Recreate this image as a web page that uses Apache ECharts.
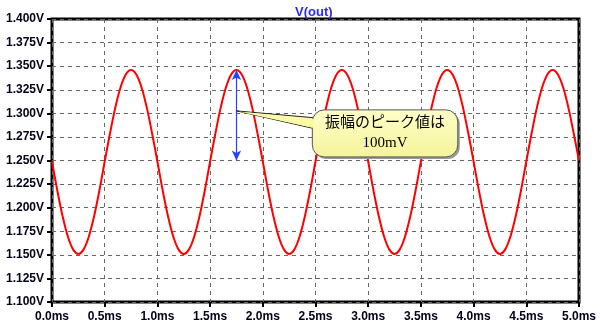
<!DOCTYPE html>
<html>
<head>
<meta charset="utf-8">
<script src="https://cdn.jsdelivr.net/npm/echarts@6/dist/echarts.min.js"></script>
<style>html,body{margin:0;padding:0;background:#fff}#c{width:600px;height:330px}</style>
</head>
<body>
<div id="c"></div>
<script>
var title = 'V(out)';
var times = [
 0.00,0.05,0.10,0.15,0.20,0.25,0.30,0.35,0.40,0.45,0.50,0.55,0.60,0.65,0.70,0.75,0.80,0.85,0.90,0.95,
 1.00,1.05,1.10,1.15,1.20,1.25,1.30,1.35,1.40,1.45,1.50,1.55,1.60,1.65,1.70,1.75,1.80,1.85,1.90,1.95,
 2.00,2.05,2.10,2.15,2.20,2.25,2.30,2.35,2.40,2.45,2.50,2.55,2.60,2.65,2.70,2.75,2.80,2.85,2.90,2.95,
 3.00,3.05,3.10,3.15,3.20,3.25,3.30,3.35,3.40,3.45,3.50,3.55,3.60,3.65,3.70,3.75,3.80,3.85,3.90,3.95,
 4.00,4.05,4.10,4.15,4.20,4.25,4.30,4.35,4.40,4.45,4.50,4.55,4.60,4.65,4.70,4.75,4.80,4.85,4.90,4.95,
 5.00];
var vout = [
 1.2490,1.2184,1.1912,1.1696,1.1558,1.1510,1.1558,1.1696,1.1912,1.2184,1.2490,1.2786,1.3058,1.3274,1.3412,1.3460,1.3412,1.3274,1.3058,1.2786,
 1.2490,1.2184,1.1912,1.1696,1.1558,1.1510,1.1558,1.1696,1.1912,1.2184,1.2490,1.2786,1.3058,1.3274,1.3412,1.3460,1.3412,1.3274,1.3058,1.2786,
 1.2490,1.2184,1.1912,1.1696,1.1558,1.1510,1.1558,1.1696,1.1912,1.2184,1.2490,1.2786,1.3058,1.3274,1.3412,1.3460,1.3412,1.3274,1.3058,1.2786,
 1.2490,1.2184,1.1912,1.1696,1.1558,1.1510,1.1558,1.1696,1.1912,1.2184,1.2490,1.2786,1.3058,1.3274,1.3412,1.3460,1.3412,1.3274,1.3058,1.2786,
 1.2490,1.2184,1.1912,1.1696,1.1558,1.1510,1.1558,1.1696,1.1912,1.2184,1.2490,1.2786,1.3058,1.3274,1.3412,1.3460,1.3412,1.3274,1.3058,1.2786,
 1.2500];
var xMin = 0, xMax = 5, xStep = 0.5;
var yMin = 1.1, yMax = 1.4, yStep = 0.025;
var arrowT = 1.75, arrowFrom = 1.25, arrowTo = 1.346;
var noteLines = ['振幅のピーク値は', '100mV'];

var chart = echarts.init(document.getElementById('c'));
var lblColor = '#000018';
var option = {
  animation: false,
  title: { text: title, left: 290, top: 1,
    textStyle: { color: '#2a2aff', fontSize: 13, fontWeight: 'bold', fontFamily: 'Liberation Sans, Arial' } },
  grid: { left: 52, right: 21, top: 19, bottom: 28, show: true, borderColor: '#000', borderWidth: 3, containLabel: false },
  xAxis: {
    type: 'value', min: xMin, max: xMax, interval: xStep,
    axisLine: { show: false },
    axisTick: { show: true, length: 5, inside: false, lineStyle: { color: '#000', width: 2 } },
    axisLabel: { margin: 9, color: lblColor, fontSize: 12, fontWeight: 'bold', fontFamily: 'Liberation Sans, Arial',
      formatter: function (v) { return v.toFixed(1) + 'ms'; } },
    splitLine: { show: true, lineStyle: { color: '#666', type: [4, 4], width: 1 } }
  },
  yAxis: {
    type: 'value', min: yMin, max: yMax, interval: yStep,
    axisLine: { show: false },
    axisTick: { show: true, length: 5, inside: false, lineStyle: { color: '#000', width: 2 } },
    axisLabel: { margin: 8, color: lblColor, fontSize: 12, fontWeight: 'bold', fontFamily: 'Liberation Sans, Arial',
      formatter: function (v) { return v.toFixed(3) + 'V'; } },
    splitLine: { show: true, lineStyle: { color: '#666', type: [4, 4], width: 1 } }
  },
  series: [{
    type: 'line', name: title, showSymbol: false, smooth: 0.35,
    data: times.map(function (t, i) { return [t, vout[i]]; }),
    lineStyle: { color: '#ff0000', width: 2 },
    z: 3,
    markLine: {
      silent: true, symbol: ['arrow', 'arrow'], symbolSize: [7, 10], label: { show: false },
      lineStyle: { color: '#2244ff', width: 1.2, type: 'solid' },
      data: [[{ coord: [arrowT, arrowFrom] }, { coord: [arrowT, arrowTo] }]]
    }
  }]
};
chart.setOption(option);

var tip = chart.convertToPixel({ gridIndex: 0 }, [arrowT, 1.3026]);
var tl = chart.convertToPixel({ gridIndex: 0 }, [2.47, 1.3026]);
var br = chart.convertToPixel({ gridIndex: 0 }, [3.85, 1.2527]);
var bx = tl[0], by = tl[1] - 1, bw = br[0] - tl[0], bh = br[1] - tl[1];
var bubbleFill = new echarts.graphic.LinearGradient(0, 0, 0, 1, [
  { offset: 0, color: '#ffffc8' }, { offset: 1, color: '#f4f49c' }]);
chart.setOption({
  graphic: [
    { type: 'rect', z: 100, shape: { x: bx + 2, y: by + 2, width: bw, height: bh, r: 12 },
      style: { fill: '#9a9a9a' } },
    { type: 'polygon', z: 101, shape: { points: [[tip[0], tip[1]], [bx + 3, by + 8], [bx + 3, by + 19]] },
      style: { fill: '#f8f8a8', stroke: '#222', lineWidth: 1 } },
    { type: 'rect', z: 102, shape: { x: bx, y: by, width: bw, height: bh, r: 12 },
      style: { fill: bubbleFill, stroke: '#555', lineWidth: 1 } },
    { type: 'polygon', z: 103, shape: { points: [[tip[0] + 2, tip[1] + 0.5], [bx + 1.5, by + 9], [bx + 1.5, by + 18]] },
      style: { fill: '#fafaa6' } },
    { type: 'text', z: 104, style: { x: bx + bw / 2, y: by + 13, text: noteLines[0], textAlign: 'center', textVerticalAlign: 'middle',
      font: '15px "Liberation Serif", "Noto Sans CJK JP"', fill: '#000' } },
    { type: 'text', z: 104, style: { x: bx + bw / 2, y: by + 33, text: noteLines[1], textAlign: 'center', textVerticalAlign: 'middle',
      font: '15px "Liberation Serif", "Noto Sans CJK JP"', fill: '#000' } }
  ]
});
</script>
</body>
</html>
